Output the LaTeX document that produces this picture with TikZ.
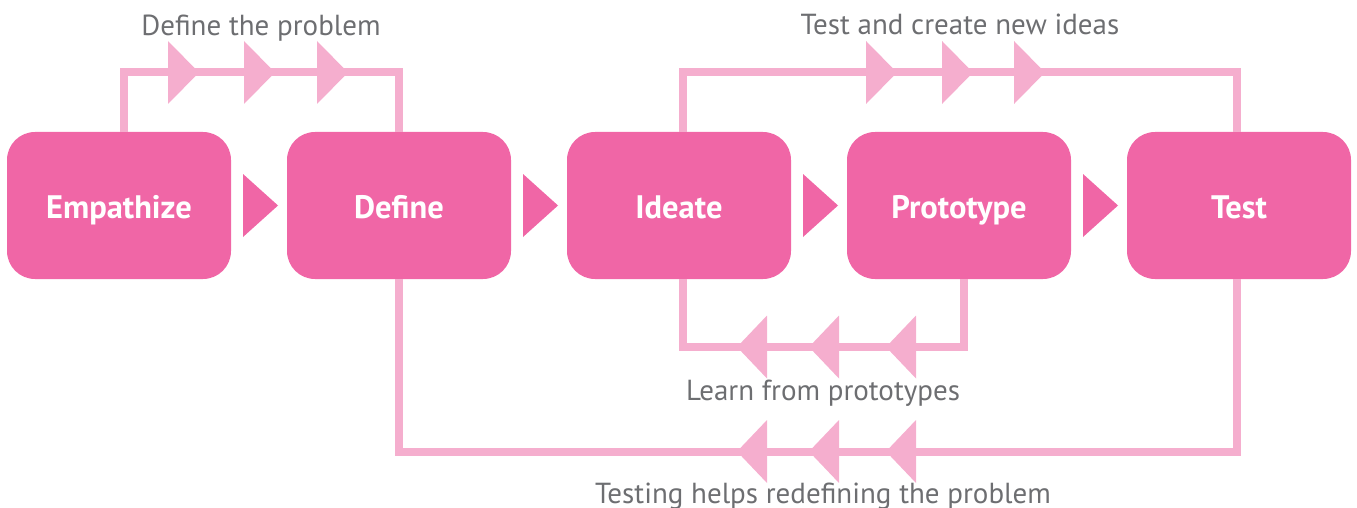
\documentclass[tikz,border=0pt]{standalone}
\usepackage{fontspec}
\setmainfont{PT Sans}
\definecolor{boxpink}{HTML}{F066A6}
\definecolor{linepink}{HTML}{F5AECE}
\definecolor{labelgray}{HTML}{6D6E71}
\newcommand\RTri[3]{\fill[#3] (#1,#2-31.5) -- ++(31,31.5) -- ++(-31,31.5) -- cycle;}
\newcommand\LTri[3]{\fill[#3] (#1,#2-31.5) -- ++(-30,31.5) -- ++(30,31.5) -- cycle;}
\begin{document}
\begin{tikzpicture}[x=1pt,y=-1pt,
  stagebox/.style={rectangle,rounded corners=28pt,fill=boxpink,minimum width=224pt,minimum height=147pt,inner sep=0pt,text=white,text height=25pt,text depth=0pt,font=\fontsize{32.5}{34}\selectfont\bfseries},
  loopline/.style={draw=linepink,line width=8pt,line join=miter},
  looplabel/.style={anchor=base,text=labelgray,inner sep=0pt,font=\fontsize{29}{32}\selectfont},
  steptri/.style={fill=boxpink}]
\useasboundingbox (0,0) rectangle (1357,508);
\node[stagebox] (emp) at (119,205.5) {Empathize};
\node[stagebox] (def) at (399,205.5) {Define};
\node[stagebox] (ide) at (679,205.5) {Ideate};
\node[stagebox] (pro) at (959,205.5) {Prototype};
\node[stagebox] (tst) at (1239,205.5) {Test};
% step triangles between boxes
\foreach \b in {243,523,803,1083}{
  \fill[boxpink] (\b,174) -- (\b+35,205.5) -- (\b,237) -- cycle;
}
% loops
\draw[loopline] ([xshift=5pt]emp.north) -- ++(0,-59.5) -| (def.north);
\draw[loopline] ([xshift=4pt]ide.north) -- ++(0,-59.5) -| ([xshift=-2pt]tst.north);
\draw[loopline] ([xshift=5pt]pro.south) -- ++(0,68) -| ([xshift=4pt]ide.south);
\draw[loopline] ([xshift=-2pt]tst.south) -- ++(0,172.5) -| (def.south);
% loop triangles
\foreach \b in {168,244,317,866,942,1014}{\RTri{\b}{72.5}{linepink}}
\foreach \b in {767,839,916}{\LTri{\b}{347}{linepink}\LTri{\b}{451.5}{linepink}}
% labels
\node[looplabel] (l1) at (261,36) {Define the problem};
\node[looplabel] (l2) at (960,35) {Test and create new ideas};
\node[looplabel] (l3) at (823,400) {Learn from prototypes};
\node[looplabel] (l4) at (823,503) {Testing helps redefining the problem};
\end{tikzpicture}
\end{document}
